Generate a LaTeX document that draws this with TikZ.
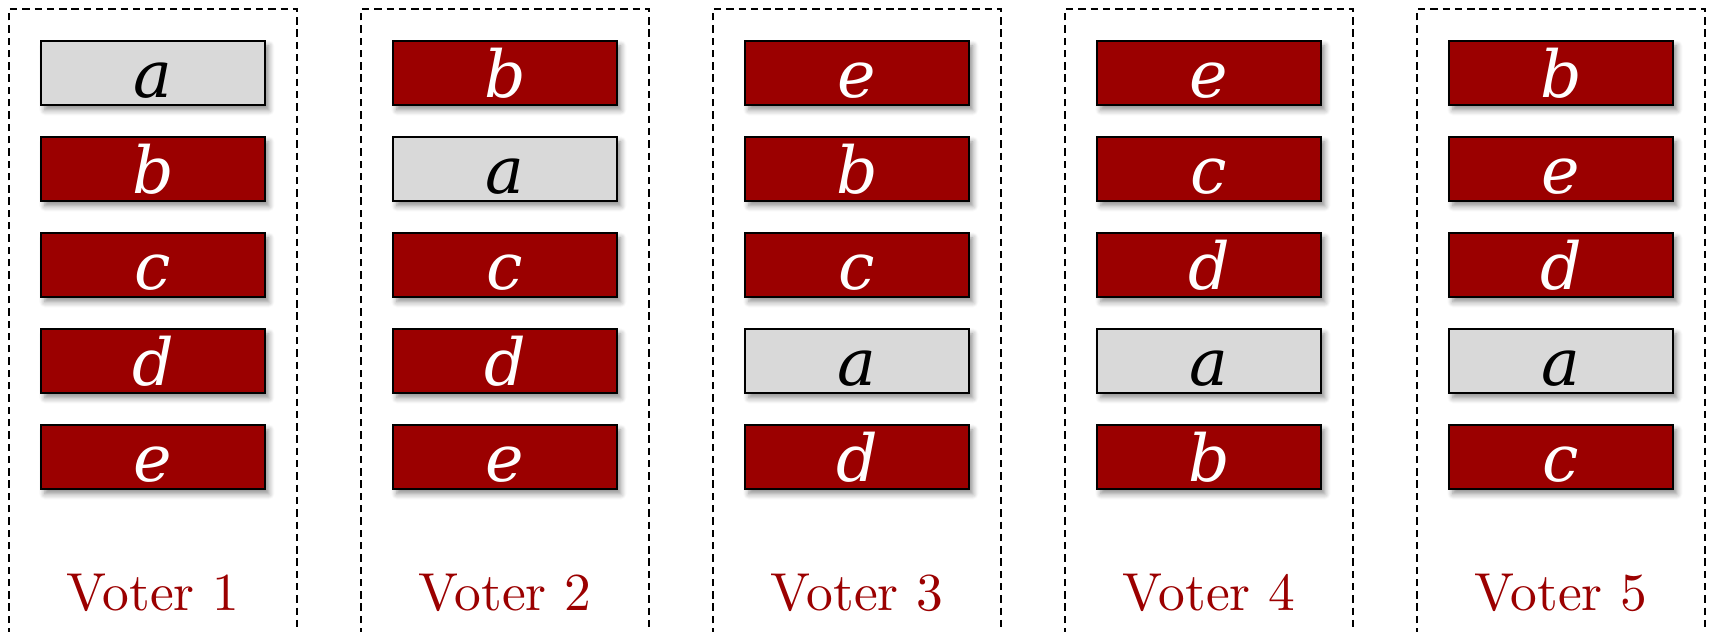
\documentclass[tikz,border=0pt]{standalone}
\usepackage{fontspec}
\newfontfamily\letterfont{DejaVu Serif}
\newfontfamily\labelfont{lmroman10-regular}[Extension=.otf]
\usetikzlibrary{shadows.blur}
\definecolor{ballotred}{RGB}{155,0,0}
\definecolor{ballotgray}{RGB}{217,217,217}
\tikzset{
  choice/.style={draw=black, line width=0.45pt, minimum width=2.24cm, minimum height=0.64cm,
    inner sep=0pt, text height=0.48cm, text depth=0pt,
    font=\letterfont\itshape\fontsize{18.5}{20}\selectfont,
    blur shadow={shadow xshift=1.1pt, shadow yshift=-1.4pt, shadow blur radius=1.6pt,
      shadow blur steps=6, shadow opacity=45}},
  redchoice/.style={choice, fill=ballotred, text=white},
  graychoice/.style={choice, fill=ballotgray, text=black},
  panel/.style={draw=black, line width=0.45pt, dash pattern=on 2.1pt off 1.4pt},
  votername/.style={text=ballotred, font=\labelfont\fontsize{15.2}{18}\selectfont, anchor=base, inner sep=0pt}
}
\def\candA{a}
\begin{document}
\begin{tikzpicture}[x=1cm,y=1cm]
\useasboundingbox (0,0) rectangle (17.09,-6.31);
\clip (0,0) rectangle (17.09,-6.31);
% dashed panel per voter, running past the lower edge
\foreach \i in {0,...,4}{
  \draw[panel] ({0.09+3.52*\i},-6.6) -- ({0.09+3.52*\i},-0.09) -- ({2.97+3.52*\i},-0.09) -- ({2.97+3.52*\i},-6.6);
}
% rankings, top to bottom; candidate a is shown in gray
\foreach \col/\ranking in {0/{a,b,c,d,e},1/{b,a,c,d,e},2/{e,b,c,a,d},3/{e,c,d,a,b},4/{b,e,d,a,c}}{
  \foreach \c [count=\r from 0] in \ranking {
    \ifx\c\candA
      \node[graychoice] (v\col-\r) at ({1.53+3.52*\col},{-0.73-0.96*\r}) {\c};
    \else
      \node[redchoice] (v\col-\r) at ({1.53+3.52*\col},{-0.73-0.96*\r}) {\c};
    \fi
  }
}
\foreach \i [evaluate=\i as \n using int(\i+1)] in {0,...,4}{
  \node[votername] (name\i) at ({1.53+3.52*\i},-6.10) {Voter \n};
}
\end{tikzpicture}
\end{document}
